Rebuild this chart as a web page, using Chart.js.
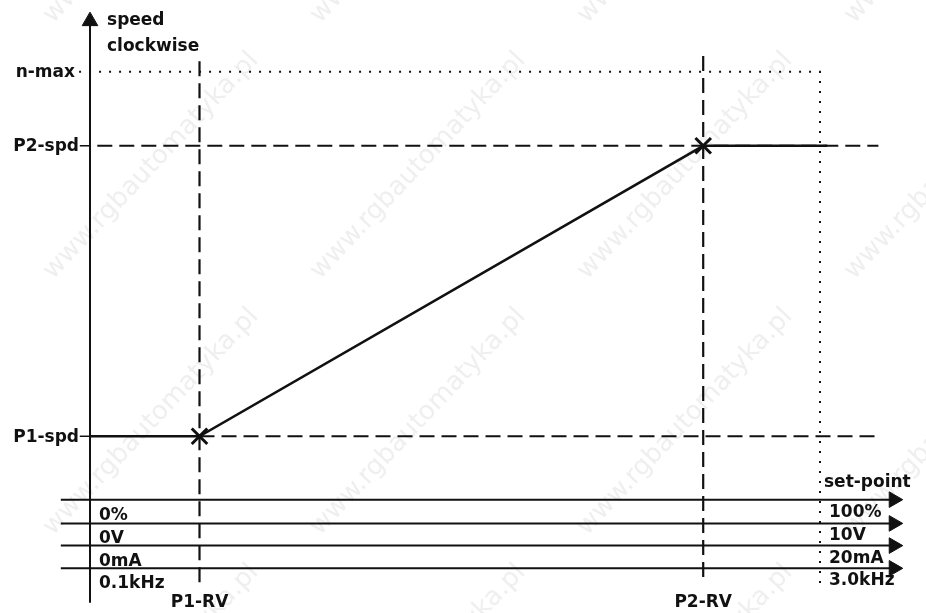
<!DOCTYPE html>
<html>
<head>
<meta charset="utf-8">
<title>Speed set-point characteristic</title>
<script src="https://cdn.jsdelivr.net/npm/chart.js@4"></script>
<style>
  html, body { margin: 0; padding: 0; background: #fff; }
  canvas { display: block; }
</style>
</head>
<body>
<canvas id="speedChart" width="926" height="613"></canvas>
<script>
// speed levels on the vertical axis (% of n-max)
const speedLabels = ['n-max', 'P2-spd', 'P1-spd'];
const speedValues = [100, 86, 31];

// reference values on the set-point axis (% of full range)
const refLabels = ['P1-RV', 'P2-RV'];
const refValues = [15, 84];
const setpointMax = 100;

// one rail per set-point signal type
const railLevels = [19, 14.5, 10.3, 6];
const railMinLabels = ['0%', '0V', '0mA', '0.1kHz'];
const railMaxLabels = ['100%', '10V', '20mA', '3.0kHz'];

const INK = '#111';
const FONT = 'bold 17px "DejaVu Sans"';

const [nMax, p2Spd, p1Spd] = speedValues;
const [p1Rv, p2Rv] = refValues;

function line(points, width, dash) {
  return {
    data: points.map(([x, y]) => ({ x, y })),
    showLine: true,
    borderColor: INK,
    borderWidth: width,
    borderDash: dash || [],
    borderCapStyle: 'butt',
    pointRadius: 0,
    fill: false
  };
}

function heads(points, rotation) {
  return {
    data: points.map(([x, y]) => ({ x, y })),
    showLine: false,
    pointStyle: 'triangle',
    pointRadius: 9,
    rotation: rotation,
    backgroundColor: INK,
    borderColor: INK,
    borderWidth: 1
  };
}

const DASH = [15, 7];
const DOTS = [2, 8];

const datasets = [
  // guide lines
  line([[-1.5, nMax], [setpointMax, nMax], [setpointMax, 3]], 2, DOTS),
  line([[1, p2Spd], [108, p2Spd]], 2, DASH),
  line([[p1Rv, p1Spd], [108, p1Spd]], 2, DASH),
  line([[p1Rv, 102], [p1Rv, 2.8]], 2.2, DASH),
  line([[p2Rv, 103], [p2Rv, 4.2]], 2.2, DASH),
  // speed axis with ticks
  line([[0, -0.5], [0, 109.6]], 2),
  heads([[0, 109.6]], 0),
  line([[-1.4, p2Spd], [0, p2Spd]], 1.5),
  line([[-1.4, p1Spd], [0, p1Spd]], 1.5),
  // set-point rails
  ...railLevels.map(lv => line([[-4, lv], [110.1, lv]], 2)),
  heads(railLevels.map(lv => [110.1, lv]), 90),
  // characteristic
  line([[0, p1Spd], [p1Rv, p1Spd], [p2Rv, p2Spd], [101, p2Spd]], 2.6),
  {
    data: [{ x: p1Rv, y: p1Spd }, { x: p2Rv, y: p2Spd }],
    showLine: false,
    pointStyle: 'crossRot',
    pointRadius: 11,
    borderColor: INK,
    borderWidth: 3
  }
];

const watermark = {
  id: 'watermark',
  beforeDatasetsDraw(chart) {
    const ctx = chart.ctx;
    ctx.save();
    ctx.fillStyle = '#efefef';
    ctx.font = '26px "DejaVu Sans"';
    ctx.textBaseline = 'alphabetic';
    for (let j = 0; j < 4; j++) {
      for (let k = -1; k < 4; k++) {
        ctx.save();
        ctx.translate(53 + 267 * k, 24 + 256 * j);
        ctx.rotate(-Math.PI / 4 - 0.03);
        ctx.fillText('www.rgbautomatyka.pl', 0, 0);
        ctx.restore();
      }
    }
    ctx.restore();
  }
};

const annotations = {
  id: 'annotations',
  afterDatasetsDraw(chart) {
    const { ctx, scales: { x, y } } = chart;
    const x0 = x.getPixelForValue(0);
    ctx.save();
    ctx.fillStyle = INK;
    ctx.font = FONT;

    // axis title
    ctx.textAlign = 'left';
    ctx.textBaseline = 'alphabetic';
    ctx.fillText('speed', x0 + 17, y.getPixelForValue(109.5) + 3);
    ctx.fillText('clockwise', x0 + 17, y.getPixelForValue(109.5) + 29);

    // speed levels
    ctx.textAlign = 'right';
    ctx.textBaseline = 'middle';
    speedLabels.forEach((lab, i) => {
      const off = i === 0 ? 15 : 11;
      ctx.fillText(lab, x0 - off, y.getPixelForValue(speedValues[i]) + 1);
    });

    // reference values
    ctx.textAlign = 'center';
    ctx.textBaseline = 'alphabetic';
    refLabels.forEach((lab, i) => {
      ctx.fillText(lab, x.getPixelForValue(refValues[i]), y.getPixelForValue(0) + 7);
    });

    // rail ranges
    ctx.textAlign = 'left';
    const xEnd = x.getPixelForValue(setpointMax);
    railLevels.forEach((lv, i) => {
      const py = y.getPixelForValue(lv);
      ctx.fillText(railMinLabels[i], x0 + 9, py + 20);
      ctx.fillText(railMaxLabels[i], xEnd + 9, py + 17);
    });
    ctx.fillText('set-point', xEnd + 4, y.getPixelForValue(railLevels[0]) - 13);
    ctx.restore();
  }
};

new Chart(document.getElementById('speedChart'), {
  type: 'scatter',
  data: { datasets },
  options: {
    responsive: false,
    animation: false,
    events: [],
    layout: { padding: 0, autoPadding: false },
    plugins: { legend: { display: false }, tooltip: { enabled: false } },
    scales: {
      x: { type: 'linear', display: false, min: -12.33, max: 114.52 },
      y: { type: 'linear', display: false, min: -2.46, max: 113.6 }
    }
  },
  plugins: [watermark, annotations]
});
</script>
</body>
</html>
